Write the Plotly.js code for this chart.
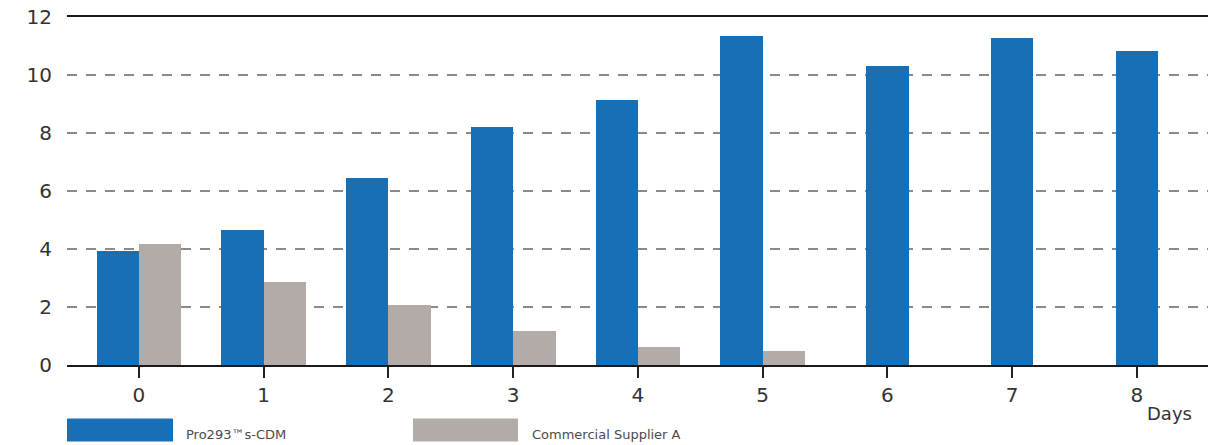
<!DOCTYPE html>
<html>
<head>
<meta charset="utf-8">
<script src="https://cdn.plot.ly/plotly-3.0.1.min.js"></script>
<style>
html,body{margin:0;padding:0;background:#fff;}
#chart{width:1208px;height:445px;}
</style>
</head>
<body>
<div id="chart"></div>
<script>
// ---- data ----
const days = [0, 1, 2, 3, 4, 5, 6, 7, 8];
const seriesNames = ["Pro293\u2122s-CDM", "Commercial Supplier A"];
const pro293 = [3.93, 4.66, 6.45, 8.21, 9.15, 11.36, 10.3, 11.27, 10.84];
const supplierA = [4.16, 2.87, 2.06, 1.17, 0.63, 0.5, null, null, null];
const yTicks = [0, 2, 4, 6, 8, 10, 12];
const xAxisLabel = "Days";

// ---- styling ----
const BLUE = "#1770b6";
const GRAY = "#b3aba8";
const FONT = "DejaVu Sans, Verdana, sans-serif";
const W = 0.34; // bar width in category units

// blue bars sit left of the tick when a gray partner exists, otherwise centred
const blueOffset = supplierA.map(v => (v === null ? -W / 2 : -W));
const grayOffset = supplierA.map(() => 0);

const traces = [
  {
    type: "bar", x: days, y: pro293, name: seriesNames[0],
    width: W, offset: blueOffset,
    marker: {color: BLUE, line: {width: 0}}, showlegend: false
  },
  {
    type: "bar", x: days, y: supplierA, name: seriesNames[1],
    width: W, offset: grayOffset,
    marker: {color: GRAY, line: {width: 0}}, showlegend: false
  }
];

// custom legend (large swatches as in the reference)
const legendItems = [
  {name: seriesNames[0], color: BLUE, x0: 67, x1: 173, tx: 184},
  {name: seriesNames[1], color: GRAY, x0: 413, x1: 518, tx: 530}
];
const shapes = [];
const annotations = [];
legendItems.forEach(it => {
  shapes.push({
    type: "rect", xref: "paper", yref: "paper",
    x0: (it.x0 - 67) / 1141, x1: (it.x1 - 67) / 1141,
    y0: (365.5 - 442) / 348.5, y1: (365.5 - 419) / 348.5,
    fillcolor: it.color, line: {width: 0}, layer: "above"
  });
  annotations.push({
    xref: "paper", yref: "paper",
    x: (it.tx - 67) / 1141, y: (365.5 - 435) / 348.5,
    xanchor: "left", yanchor: "middle", showarrow: false,
    text: it.name, font: {family: FONT, size: 13, color: "#4a4a4a"}
  });
});
annotations.push({
  xref: "paper", yref: "paper",
  x: (1145 - 67) / 1141, y: (365.5 - 414) / 348.5,
  xanchor: "left", yanchor: "middle", showarrow: false,
  text: xAxisLabel, font: {family: FONT, size: 18, color: "#333"}
});

const layout = {
  width: 1208, height: 445,
  margin: {l: 67, r: 0, t: 17, b: 79.5, pad: 0},
  paper_bgcolor: "#fff", plot_bgcolor: "#fff",
  barmode: "overlay",
  bargap: 0,
  showlegend: false,
  font: {family: FONT, color: "#333"},
  xaxis: {
    range: [-0.577, 8.57],
    tickvals: days, ticktext: days.map(String),
    ticks: "outside", ticklen: 11, tickwidth: 2, tickcolor: "#222",
    showline: true, linecolor: "#1a1a1a", linewidth: 2, mirror: true,
    showgrid: false, zeroline: false,
    tickfont: {family: FONT, size: 20, color: "#333"}
  },
  yaxis: {
    range: [0, 12],
    tickvals: yTicks, ticktext: yTicks.map(String),
    ticks: "", ticklabelstandoff: 14,
    showline: false,
    showgrid: true, gridcolor: "#8a8a8a", griddash: "10px,9px", gridwidth: 1.5,
    zeroline: false,
    tickfont: {family: FONT, size: 20, color: "#333"}
  },
  shapes: shapes,
  annotations: annotations
};

Plotly.newPlot("chart", traces, layout, {displayModeBar: false, staticPlot: true});
</script>
</body>
</html>
